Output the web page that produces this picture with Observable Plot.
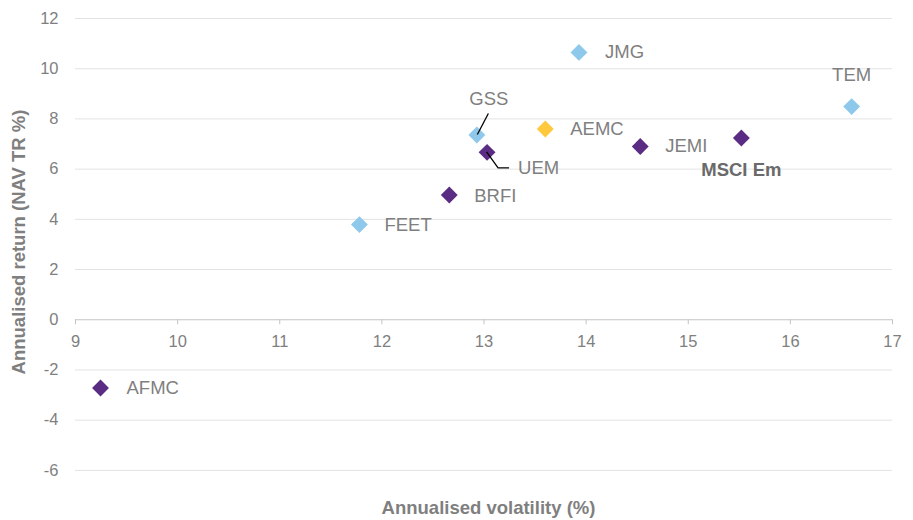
<!DOCTYPE html>
<html>
<head>
<meta charset="utf-8">
<script src="https://cdn.jsdelivr.net/npm/d3@7"></script>
<script src="https://cdn.jsdelivr.net/npm/@observablehq/plot@0.6"></script>
<style>
  html, body { margin: 0; padding: 0; background: #fff; }
  #chart { width: 913px; height: 520px; }
</style>
</head>
<body>
<div id="chart"></div>
<script>
// ---- data ----
const names = ["JMG", "TEM", "GSS", "AEMC", "UEM", "BRFI", "JEMI", "MSCI Em", "FEET", "AFMC"];
const volatility = [13.93, 16.60, 12.93, 13.60, 13.03, 12.66, 14.53, 15.52, 11.78, 9.245];
const returns = [10.65, 8.49, 7.36, 7.60, 6.67, 4.97, 6.90, 7.24, 3.79, -2.72];
const groups = ["peer", "peer", "peer", "trust", "other", "other", "other", "other", "peer", "other"];
const xTicks = [9, 10, 11, 12, 13, 14, 15, 16, 17];
const yTicks = [-6, -4, -2, 0, 2, 4, 6, 8, 10, 12];
const xTitle = "Annualised volatility (%)";
const yTitle = "Annualised return (NAV TR %)";

// ---- styling / layout ----
const font = "'Liberation Sans', Arial, sans-serif";
const grey = "#7f7f7f";
const colors = {peer: "#8ec8ea", trust: "#ffc83d", other: "#5b2c83"};
const labelStyle = {
  "JMG": {dx: 26, dy: 0, anchor: "start"},
  "TEM": {dx: 0, dy: -32, anchor: "middle"},
  "GSS": {dx: 12, dy: -36, anchor: "middle"},
  "AEMC": {dx: 25, dy: 0, anchor: "start"},
  "UEM": {dx: 31, dy: 16, anchor: "start"},
  "BRFI": {dx: 25, dy: 1, anchor: "start"},
  "JEMI": {dx: 25, dy: 0, anchor: "start"},
  "MSCI Em": {dx: 0, dy: 32, anchor: "middle", bold: true},
  "FEET": {dx: 25, dy: 0, anchor: "start"},
  "AFMC": {dx: 26, dy: 0, anchor: "start"}
};
const leaders = {
  "GSS": [[12, -21], [1, 0]],
  "UEM": [[0, 0], [11.5, 16], [22.5, 16]]
};

const points = names.map((n, i) => ({name: n, x: volatility[i], y: returns[i], group: groups[i]}));

const labelMarks = points.map(p => {
  const s = labelStyle[p.name];
  return Plot.text([p], {
    x: "x", y: "y", text: "name",
    dx: s.dx, dy: s.dy, textAnchor: s.anchor,
    fill: s.bold ? "#6a6a6a" : grey,
    fontWeight: s.bold ? "bold" : "normal",
    fontSize: 18.5
  });
});

const chart = Plot.plot({
  width: 913,
  height: 520,
  marginLeft: 75,
  marginRight: 21,
  marginTop: 18,
  marginBottom: 25,
  style: {fontFamily: font, background: "#fff", overflow: "visible"},
  x: {domain: [9, 17], axis: null},
  y: {domain: [-7, 12], axis: null},
  marks: [
    Plot.ruleY(yTicks.filter(d => d !== 0), {y: d => d, x1: 9, x2: 17, stroke: "#e3e3e3", strokeWidth: 1}),
    Plot.ruleY([0], {x1: 9, x2: 17, stroke: "#c4c4c4", strokeWidth: 1.2}),
    Plot.ruleX(xTicks, {x: d => d, y1: 0, y2: -0.2, stroke: "#c4c4c4", strokeWidth: 1}),
    Plot.text(xTicks, {x: d => d, y: 0, text: d => String(d), dy: 22, fill: grey, fontSize: 16.5}),
    Plot.text(yTicks, {x: 9, y: d => d, text: d => String(d), dx: -17, textAnchor: "end", fill: grey, fontSize: 16.5}),
    Plot.dot(points, {x: "x", y: "y", symbol: "diamond2", r: 7.6, fill: d => colors[d.group], stroke: "none"}),
    ...labelMarks
  ]
});

const sx = chart.scale("x"), sy = chart.scale("y");
const svg = d3.select(chart);

// leader lines, positioned through the chart's own scales
points.forEach(p => {
  const l = leaders[p.name];
  if (!l) return;
  const px = sx.apply(p.x), py = sy.apply(p.y);
  svg.append("path")
    .attr("d", d3.line()(l.map(([ox, oy]) => [px + ox, py + oy])))
    .attr("fill", "none")
    .attr("stroke", "#000")
    .attr("stroke-width", 1.3);
});

// axis titles
const xMid = (sx.apply(9) + sx.apply(17)) / 2;
svg.append("text")
  .attr("x", xMid + 5).attr("y", 509)
  .attr("text-anchor", "middle").attr("dominant-baseline", "middle")
  .attr("font-family", font).attr("font-size", 18.5).attr("font-weight", "bold")
  .attr("fill", grey).text(xTitle);
svg.append("text")
  .attr("transform", "translate(20,242) rotate(-90)")
  .attr("text-anchor", "middle").attr("dominant-baseline", "middle")
  .attr("font-family", font).attr("font-size", 18.5).attr("font-weight", "bold")
  .attr("fill", grey).text(yTitle);

document.getElementById("chart").appendChild(chart);
</script>
</body>
</html>
